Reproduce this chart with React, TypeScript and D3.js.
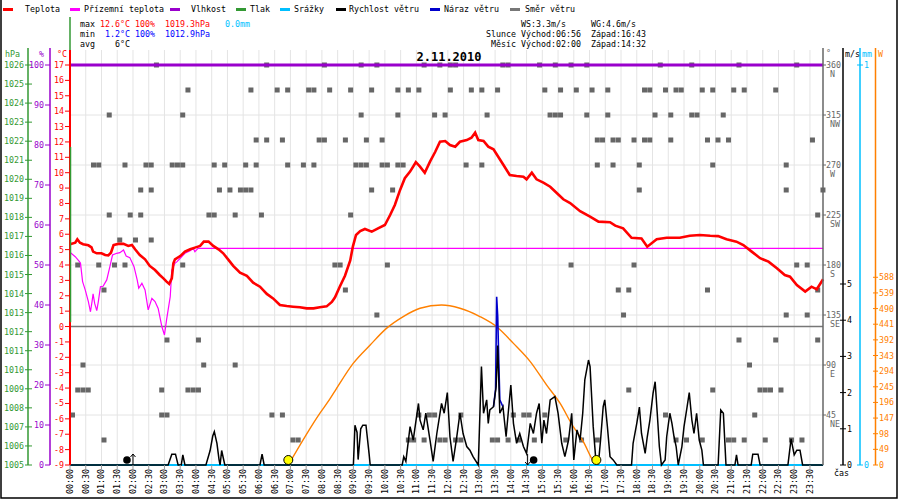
import React from 'react';
import * as d3 from 'd3';

// readings, time in minutes after midnight
const temperature: [number, number][] = [
  [0, 5.35], [10, 5.45], [14, 5.67], [19, 5.45], [25, 5.35], [35, 5.28], [41, 5.15], [44, 4.87], [51, 4.76], [60, 4.76],
  [67, 4.65], [73, 4.63], [78, 4.8], [83, 5.3], [92, 5.37], [102, 5.37], [111, 5.24], [118, 5.3], [124, 5.02], [133, 4.65],
  [143, 4.37], [152, 3.94], [162, 3.67], [171, 3.35], [178, 3.13], [184, 2.92], [189, 2.77], [194, 3.13], [197, 4.11], [200, 4.37],
  [210, 4.58], [219, 4.87], [229, 5.02], [238, 5.13], [248, 5.24], [255, 5.52], [264, 5.52], [273, 5.24], [283, 5.02], [292, 4.76],
  [302, 4.33], [311, 3.94], [324, 3.5], [337, 3.29], [349, 2.85], [362, 2.59], [375, 2.12], [387, 1.83], [400, 1.4], [413, 1.33],
  [425, 1.29], [438, 1.25], [451, 1.18], [464, 1.18], [476, 1.25], [489, 1.31], [499, 1.6], [505, 1.9], [514, 2.59], [524, 3.3],
  [534, 4.3], [539, 5.2], [545, 5.95], [553, 6.2], [562, 6.34], [575, 6.17], [587, 6.38], [600, 6.6], [610, 7.25], [619, 7.9],
  [629, 8.88], [638, 9.64], [648, 10.07], [659, 10.68], [667, 10.39], [676, 10.0], [686, 10.72], [696, 11.36], [705, 12.01], [715, 12.06],
  [724, 11.8], [734, 11.69], [743, 12.01], [756, 12.12], [765, 12.27], [772, 12.6], [778, 12.12], [788, 12.06], [797, 11.69], [807, 11.52],
  [816, 11.04], [826, 10.5], [838, 9.85], [851, 9.79], [864, 9.74], [870, 9.57], [880, 10.0], [889, 9.57], [902, 9.35], [915, 9.09],
  [927, 8.7], [940, 8.27], [953, 8.03], [972, 7.5], [991, 7.14], [1007, 6.82], [1029, 6.78], [1039, 6.56], [1054, 6.38], [1070, 5.77],
  [1089, 5.73], [1100, 5.19], [1118, 5.67], [1137, 5.77], [1162, 5.77], [1181, 5.9], [1200, 5.95], [1220, 5.9], [1235, 5.88], [1251, 5.67],
  [1270, 5.52], [1283, 5.3], [1299, 4.87], [1315, 4.44], [1331, 4.22], [1347, 3.79], [1362, 3.35], [1372, 3.24], [1385, 2.7], [1401, 2.27],
  [1413, 2.59], [1423, 2.42], [1435, 3.07],
];

const feelsLike: [number, number][] = [
  [1, 4.8], [10, 4.54], [18, 4.22], [20, 4.11], [24, 2.92], [29, 2.38], [35, 1.62], [39, 0.96], [42, 1.62], [44, 2.12],
  [47, 1.5], [51, 1.03], [54, 1.62], [58, 2.59], [63, 2.62], [70, 3.03], [76, 3.89], [81, 4.65], [89, 4.76], [95, 4.8],
  [102, 4.98], [107, 4.58], [114, 4.48], [122, 3.89], [128, 3.03], [131, 2.49], [137, 2.81], [143, 2.38], [149, 1.08], [156, 1.83],
  [162, 1.62], [168, 1.18], [175, 0.0], [180, -0.55], [184, 0.43], [191, 1.94], [194, 3.67], [200, 4.11], [204, 4.22], [210, 4.44],
  [219, 4.76], [229, 4.93], [235, 5.08], [238, 4.87], [244, 5.08], [1435, 5.08],
];

const humidity: [number, number][] = [[0, 100], [1435, 100]];
const precipitation: [number, number][] = [[0, 0], [1435, 0]];
const pressureSpan = [1012.5, 1021.7];

const windSpeed: [number, number][] = [
  [0, 0], [187, 0], [194, 0.3], [201, 0.3], [206, 0], [212, 0], [215, 0.28], [219, 0], [259, 0], [267, 0.4],
  [272, 0.8], [275, 0.92], [280, 0.6], [284, 0.15], [286, 0], [289, 0.4], [292, 0.2], [295, 0], [362, 0], [366, 0.3],
  [370, 0], [540, 0], [543, 1.1], [547, 0.9], [549, 0.15], [554, 1.0], [558, 1.1], [564, 1.1], [570, 0.3], [572, 0],
  [633, 0], [636, 0.23], [640, 0.1], [648, 1.06], [654, 0.69], [664, 1.7], [667, 1.24], [673, 0.97], [678, 1.43], [686, 0.69],
  [692, 0.1], [699, 0.87], [708, 1.7], [713, 1.43], [719, 2.0], [724, 0.78], [730, 0.1], [737, 0.78], [743, 1.43], [749, 0.87],
  [756, 0.51], [762, 0.41], [768, 0.23], [778, 0], [784, 2.72], [788, 1.43], [794, 1.8], [797, 1.15], [800, 1.52], [807, 1.61],
  [812, 2.16], [815, 3.3], [819, 1.43], [825, 1.61], [831, 0.78], [835, 1.43], [840, 2.21], [845, 1.15], [851, 0.6], [857, 0.87],
  [864, 0.51], [870, 0.32], [877, 1.15], [883, 0.87], [889, 1.43], [894, 1.7], [899, 0.6], [903, 1.24], [908, 0.87], [915, 1.8],
  [924, 1.89], [930, 1.43], [937, 0.6], [943, 0.23], [950, 0.69], [956, 1.43], [960, 0.14], [966, 0.97], [972, 0.69], [977, 1.43],
  [981, 2.35], [988, 2.9], [991, 2.72], [997, 1.06], [1002, 0.14], [1007, 0.05], [1011, 0.69], [1016, 1.61], [1019, 1.8], [1024, 1.06],
  [1029, 0.23], [1035, 0.14], [1042, 0], [1070, 0], [1073, 0.6], [1080, 1.15], [1085, 1.6], [1089, 0.87], [1096, 0.32], [1100, 0.78],
  [1105, 1.24], [1111, 1.98], [1115, 2.3], [1119, 1.43], [1123, 0.51], [1127, 0], [1134, 0.14], [1137, 0.78], [1143, 1.43], [1147, 1.15],
  [1151, 0.78], [1155, 0.51], [1159, 0], [1166, 0.51], [1170, 1.06], [1175, 1.52], [1180, 2.0], [1185, 1.24], [1189, 0.87], [1194, 1.43],
  [1199, 0.69], [1204, 0.41], [1207, 0], [1235, 0], [1240, 1.52], [1245, 1.43], [1250, 0], [1267, 0], [1270, 0.28], [1273, 0],
  [1298, 0], [1301, 0.3], [1311, 0.3], [1315, 0], [1368, 0], [1374, 0.72], [1380, 0.28], [1385, 0.41], [1391, 0.41], [1396, 0],
  [1435, 0],
];

const windGust: [number, number][] = [
  [807, 1.61], [811, 2.1], [813, 4.65], [815, 4.1], [817, 2.9], [819, 1.8], [825, 1.61],
];

const solar: [number, number][] = [
  [416, 0], [476, 162], [495, 206], [508, 240], [540, 319], [572, 376], [603, 428], [635, 465], [667, 491], [708, 501],
  [743, 491], [781, 465], [813, 433], [845, 381], [877, 324], [908, 251], [934, 193], [959, 120], [972, 89], [978, 73],
  [1000, 5], [1003, 0],
];

// wind direction: 10-minute reading indices per compass heading
const windDirection: [number, number[]][] = [
  [360, [16, 37, 48, 55, 58, 67, 70, 72, 73, 82, 83, 89, 92, 95, 98, 112, 118, 127, 138]],
  [337.5, [22, 34, 39, 41, 45, 46, 49, 53, 57, 62, 64, 66, 72, 76, 78, 81, 90, 93, 96, 99, 102, 109, 110, 113, 115, 116, 120, 122, 126, 128, 134]],
  [315, [7, 21, 55, 62, 69, 71, 79, 91, 92, 93, 98, 102, 111, 114, 118, 119, 124]],
  [292.5, [35, 37, 40, 47, 48, 52, 56, 59, 100, 101, 103, 104, 107, 109, 110, 114, 121, 123, 125, 141]],
  [270, [4, 5, 10, 14, 15, 19, 20, 21, 27, 29, 33, 35, 41, 44, 46, 54, 55, 56, 59, 60, 62, 63, 75, 78, 100, 103, 108, 122, 136]],
  [247.5, [13, 15, 28, 30, 32, 33, 34, 57, 61, 108, 136, 143]],
  [225, [7, 11, 13, 26, 27, 31, 36, 53, 142]],
  [202.5, [9, 12, 15]],
  [180, [1, 5, 8, 10, 21, 50, 51, 60, 95, 107, 138, 140]],
  [157.5, [6, 52, 104, 106, 121, 142]],
  [135, [58, 105, 136, 140]],
  [112.5, [18, 24, 127, 134, 142]],
  [90, [2, 25, 31, 129]],
  [67.5, [1, 2, 3, 17, 22, 23, 24, 106, 122, 131, 132, 133, 135]],
  [45, [0, 17, 18, 38, 40, 66, 68, 69, 74, 84, 86, 87, 90, 113, 130]],
  [22.5, [6, 42, 43, 64, 65, 67, 70, 71, 73, 74, 80, 81, 83, 85, 88, 94, 97, 100, 115, 117, 120, 125, 126, 128, 132, 137, 139]],
];

const sunEvents = { rise: 416, set: 1003 };
const moonEvents = { rise: 120, set: 872 };

const compass = ['', 'NE', 'E', 'SE', 'S', 'SW', 'W', 'NW', 'N'];
const legendItems = [
  { label: 'Teplota', color: '#ff0000' },
  { label: 'Přízemní teplota', color: '#ff00ff' },
  { label: 'Vlhkost', color: '#9900cc' },
  { label: 'Tlak', color: '#339933' },
  { label: 'Srážky', color: '#00bfff' },
  { label: 'Rychlost větru', color: '#000000' },
  { label: 'Náraz větru', color: '#0000cc' },
  { label: 'Směr větru', color: '#777777' },
];

const FONT = '"DejaVu Sans Mono", monospace';
const RED = '#ff0000';
const MAGENTA = '#ff00ff';
const PURPLE = '#9900cc';
const GREEN = '#339933';
const CYAN = '#00bfff';
const BLUE = '#0000cc';
const GRAY = '#666666';
const ORANGE = '#ff8000';
const GRID = '#e4e4e4';

const x = d3.scaleLinear().domain([0, 1440]).range([70, 825.7]);
const yT = d3.scaleLinear().domain([-9, 17]).range([465, 65]);
const yH = d3.scaleLinear().domain([0, 100]).range([465, 65]);
const yP = d3.scaleLinear().domain([1005, 1026]).range([465, 65]);
const yDir = d3.scaleLinear().domain([0, 360]).range([465, 65]);
const yWind = d3.scaleLinear().domain([0, 11.05]).range([465, 65]);
const yRain = d3.scaleLinear().domain([0, 1]).range([465, 65]);
const ySun = d3.scaleLinear().domain([0, 1253]).range([465, 65]);

const pathOf = (data: [number, number][], y: d3.ScaleLinear<number, number>, curve = d3.curveLinear) =>
  d3.line<[number, number]>().x(d => x(d[0])).y(d => y(d[1])).curve(curve)(data) || '';

const hhmm = (m: number) => `${String(Math.floor(m / 60)).padStart(2, '0')}:${String(m % 60).padStart(2, '0')}`;

const legendPos = [[3, 25], [70, 84], [170, 191], [236, 250], [280, 294], [336, 349], [430, 444], [510, 525]];

export default function App() {
  const halfHours = d3.range(0, 1440, 30);
  const txt = { fontFamily: FONT, fontSize: 8.3 };
  const col = (c: number) => 80 + c * 5;
  const col2 = (c: number) => 486 + c * 5;

  return (
    <svg width={900} height={500} style={{ position: 'absolute', left: 0, top: 0, background: '#fff' }}>
      <rect x={0} y={0} width={900} height={500} fill="#fff" />

      {/* grid */}
      {halfHours.map(m => (
        <line key={'g' + m} x1={x(m)} x2={x(m)} y1={50} y2={465} stroke={GRID} strokeWidth={1} />
      ))}
      {d3.range(45, 360, 45).map(d => (
        <line key={'h' + d} x1={70} x2={823} y1={yDir(d)} y2={yDir(d)} stroke={GRID} strokeWidth={1} />
      ))}
      <line x1={70} x2={823} y1={yT(0)} y2={yT(0)} stroke="#777" strokeWidth={1.5} />

      {/* wind direction */}
      {windDirection.map(([deg, slots]) =>
        slots.map(s => (
          <rect key={deg + '-' + s} x={x(s * 10)} y={yDir(deg) - 2.5} width={5} height={5} fill={GRAY} />
        ))
      )}

      {/* solar */}
      <path d={pathOf(solar, ySun, d3.curveMonotoneX)} fill="none" stroke={ORANGE} strokeWidth={1.4} />

      {/* precipitation + wind */}
      <path d={pathOf(precipitation, yRain)} fill="none" stroke={CYAN} strokeWidth={2} />
      <path d={pathOf(windGust, yWind)} fill="none" stroke={BLUE} strokeWidth={1.6} />
      <path d={pathOf(windSpeed, yWind)} fill="none" stroke="#000" strokeWidth={1.5} />

      {/* humidity, temperatures */}
      <path d={pathOf(humidity, yH)} fill="none" stroke={PURPLE} strokeWidth={3} />
      <path d={pathOf(feelsLike, yT)} fill="none" stroke={MAGENTA} strokeWidth={1.2} />
      <path d={pathOf(temperature, yT)} fill="none" stroke={RED} strokeWidth={2.6} />

      {/* sun and moon */}
      {[sunEvents.rise, sunEvents.set].map(t => (
        <circle key={'s' + t} cx={x(t)} cy={yWind(0) - 5} r={4.5} fill="#ffff00" stroke="#000" strokeWidth={1} />
      ))}
      <circle cx={x(moonEvents.rise) - 6} cy={yWind(0) - 5} r={3.8} fill="#000" />
      <path d={`M${x(moonEvents.rise)},${yWind(0)}V${yWind(0) - 11}M${x(moonEvents.rise) - 2.5},${yWind(0) - 8}L${x(moonEvents.rise)},${yWind(0) - 11}L${x(moonEvents.rise) + 2.5},${yWind(0) - 8}`} fill="none" stroke="#000" strokeWidth={1} />
      <circle cx={x(moonEvents.set) + 6} cy={yWind(0) - 5} r={3.8} fill="#000" />
      <path d={`M${x(moonEvents.set)},${yWind(0) - 11}V${yWind(0)}M${x(moonEvents.set) - 2.5},${yWind(0) - 3}L${x(moonEvents.set)},${yWind(0)}L${x(moonEvents.set) + 2.5},${yWind(0) - 3}`} fill="none" stroke="#000" strokeWidth={1} />

      {/* left axes */}
      <line x1={28} x2={28} y1={48} y2={465} stroke={GREEN} strokeWidth={1.5} />
      {d3.range(1005, 1027).map(p => (
        <g key={'p' + p}>
          <line x1={25} x2={32} y1={yP(p)} y2={yP(p)} stroke={GREEN} strokeWidth={1} />
          <text x={24} y={yP(p) + 3} textAnchor="end" fill={GREEN} {...txt}>{p}</text>
        </g>
      ))}
      <line x1={50} x2={50} y1={48} y2={465} stroke={PURPLE} strokeWidth={1.5} />
      {d3.range(0, 101, 10).map(h => (
        <g key={'hu' + h}>
          <line x1={45} x2={50} y1={yH(h)} y2={yH(h)} stroke={PURPLE} strokeWidth={1} />
          <text x={44} y={yH(h) + 3} textAnchor="end" fill={PURPLE} {...txt}>{h}</text>
        </g>
      ))}
      <line x1={70} x2={70} y1={17} y2={50} stroke={GREEN} strokeWidth={1.5} />
      <line x1={70} x2={70} y1={50} y2={465} stroke={RED} strokeWidth={2} />
      <line x1={70.5} x2={70.5} y1={yP(pressureSpan[1])} y2={yP(pressureSpan[0])} stroke={GREEN} strokeWidth={1.5} />
      {d3.range(-9, 18).map(t => (
        <g key={'t' + t}>
          <line x1={65} x2={70} y1={yT(t)} y2={yT(t)} stroke={RED} strokeWidth={1} />
          <text x={64} y={yT(t) + 3} textAnchor="end" fill={RED} {...txt}>{t}</text>
        </g>
      ))}
      <text x={5} y={57} fill={GREEN} {...txt}>hPa</text>
      <text x={39} y={57} fill={PURPLE} {...txt}>%</text>
      <text x={57} y={57} fill={RED} {...txt}>°C</text>

      {/* right axes */}
      <line x1={823} x2={823} y1={48} y2={465} stroke={GRAY} strokeWidth={1.5} />
      {d3.range(45, 361, 45).map((d, i) => (
        <g key={'d' + d}>
          <line x1={823} x2={826} y1={yDir(d)} y2={yDir(d)} stroke={GRAY} strokeWidth={1} />
          <text x={826} y={yDir(d) + 3} fill={GRAY} {...txt}>{d}</text>
          <text x={830} y={yDir(d) + 12} fill={GRAY} {...txt}>{compass[i + 1]}</text>
        </g>
      ))}
      <line x1={843} x2={843} y1={48} y2={465} stroke="#000" strokeWidth={1.5} />
      {d3.range(0, 6).map(v => (
        <g key={'w' + v}>
          <line x1={840} x2={846} y1={yWind(v)} y2={yWind(v)} stroke="#000" strokeWidth={1} />
          <text x={847} y={yWind(v) + 3} fill="#000" {...txt}>{v}</text>
        </g>
      ))}
      <line x1={860} x2={860} y1={48} y2={465} stroke={CYAN} strokeWidth={1.5} />
      {[0, 1].map(v => (
        <g key={'r' + v}>
          <line x1={857} x2={863} y1={yRain(v)} y2={yRain(v)} stroke={CYAN} strokeWidth={1} />
          <text x={864} y={yRain(v) + 3} fill={CYAN} {...txt}>{v}</text>
        </g>
      ))}
      <line x1={875.5} x2={875.5} y1={48} y2={465} stroke={ORANGE} strokeWidth={1.5} />
      {d3.range(0, 589, 49).map(v => (
        <g key={'sw' + v}>
          <line x1={873} x2={878} y1={ySun(v)} y2={ySun(v)} stroke={ORANGE} strokeWidth={1} />
          <text x={879} y={ySun(v) + 3} fill={ORANGE} {...txt}>{v}</text>
        </g>
      ))}
      <text x={826} y={56} fill={GRAY} {...txt}>°</text>
      <text x={845} y={57} fill="#000" {...txt}>m/s</text>
      <text x={862} y={57} fill={CYAN} {...txt}>mm</text>
      <text x={878} y={57} fill={ORANGE} {...txt}>W</text>
      <text x={834} y={476} fill="#000" {...txt}>čas</text>

      {/* x axis labels */}
      {halfHours.map(m => (
        <g key={'xl' + m}>
          <line x1={x(m)} x2={x(m)} y1={465} y2={469} stroke="#999" strokeWidth={1} />
          <text transform={`translate(${x(m)},469) rotate(-90)`} textAnchor="end" dy="0.35em" fill="#000" {...txt}>{hhmm(m)}</text>
        </g>
      ))}

      {/* title */}
      <text x={449} y={61} textAnchor="middle" fontFamily={FONT} fontSize={12} fontWeight="bold" fill="#000">2.11.2010</text>

      {/* legend */}
      {legendItems.map((it, i) => (
        <g key={it.label}>
          <line x1={legendPos[i][0]} x2={legendPos[i][0] + 10} y1={9.5} y2={9.5} stroke={it.color} strokeWidth={3} />
          <text x={legendPos[i][1]} y={12} fill="#000" {...txt}>{it.label}</text>
        </g>
      ))}

      {/* stats */}
      <g {...txt}>
        <text x={col(0)} y={27} fill="#000">max</text>
        <text x={col(4)} y={27} fill={RED}>12.6°C</text>
        <text x={col(11)} y={27} fill={RED}>100%</text>
        <text x={col(17)} y={27} fill={RED}>1019.3hPa</text>
        <text x={col(29)} y={27} fill={CYAN}>0.0mm</text>
        <text x={col(0)} y={37} fill="#000">min</text>
        <text x={col(5)} y={37} fill="#0000ff">1.2°C</text>
        <text x={col(11)} y={37} fill="#0000ff">100%</text>
        <text x={col(17)} y={37} fill="#0000ff">1012.9hPa</text>
        <text x={col(0)} y={47} fill="#000">avg</text>
        <text x={col(7)} y={47} fill="#000">6°C</text>

        <text x={col2(7)} y={27} fill="#000">WS:3.3m/s</text>
        <text x={col2(21)} y={27} fill="#000">WG:4.6m/s</text>
        <text x={col2(0)} y={37} fill="#000">Slunce</text>
        <text x={col2(7)} y={37} fill="#000">Východ:06:56</text>
        <text x={col2(21)} y={37} fill="#000">Západ:16:43</text>
        <text x={col2(1)} y={47} fill="#000">Měsíc</text>
        <text x={col2(7)} y={47} fill="#000">Východ:02:00</text>
        <text x={col2(21)} y={47} fill="#000">Západ:14:32</text>
      </g>

      {/* frame */}
      <path d="M1,0V498H897V0" fill="none" stroke="#000" strokeWidth={1.5} />
    </svg>
  );
}
